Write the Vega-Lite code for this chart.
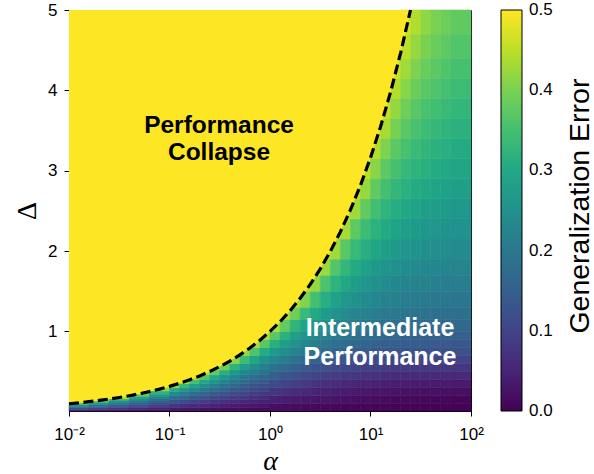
{
  "$schema": "https://vega.github.io/schema/vega-lite/v6.json",
  "width": 402,
  "height": 401,
  "autosize": {"type": "none"},
  "padding": {"left": 69, "top": 10, "right": 123, "bottom": 63},
  "background": "white",
  "config": {
    "font": "Liberation Sans",
    "view": {"stroke": "black", "strokeWidth": 1},
    "axis": {"domainColor": "black", "tickColor": "black", "labelColor": "black", "titleColor": "black", "labelFontSize": 17, "tickSize": 5, "grid": false, "labelFont": "Liberation Sans", "labelFlush": false, "domainWidth": 1, "tickWidth": 1}
  },
  "datasets": {
    "cells": [
      {"a0": 0.01, "a1": 0.015849, "d0": [0.01,0.03,0.05,0.07,0.09,0.11], "d1": [0.03,0.05,0.07,0.09,0.11,0.135], "e": [0.057,0.116,0.18,0.253,0.35,0.45]},
      {"a0": 0.015849, "a1": 0.025119, "d0": [0.01,0.03,0.05,0.07,0.09,0.11,0.135], "d1": [0.03,0.05,0.07,0.09,0.11,0.135,0.16], "e": [0.045,0.091,0.14,0.192,0.25,0.334,0.45]},
      {"a0": 0.025119, "a1": 0.039811, "d0": [0.01,0.03,0.05,0.07,0.09,0.11,0.135,0.16,0.19], "d1": [0.03,0.05,0.07,0.09,0.11,0.135,0.16,0.19,0.22], "e": [0.036,0.072,0.11,0.149,0.19,0.242,0.312,0.44,0.46]},
      {"a0": 0.039811, "a1": 0.063096, "d0": [0.01,0.03,0.05,0.07,0.09,0.11,0.135,0.16,0.19,0.22], "d1": [0.03,0.05,0.07,0.09,0.11,0.135,0.16,0.19,0.22,0.26], "e": [0.028,0.057,0.086,0.116,0.147,0.184,0.229,0.286,0.368,0.45]},
      {"a0": 0.063096, "a1": 0.1, "d0": [0.01,0.03,0.05,0.07,0.09,0.11,0.135,0.16,0.19,0.22,0.26,0.3], "d1": [0.03,0.05,0.07,0.09,0.11,0.135,0.16,0.19,0.22,0.26,0.3,0.35], "e": [0.023,0.045,0.068,0.092,0.116,0.143,0.175,0.213,0.259,0.325,0.42,0.46]},
      {"a0": 0.1, "a1": 0.12589, "d0": [0.01,0.05,0.1,0.15,0.2,0.25,0.3,0.35], "d1": [0.05,0.1,0.15,0.2,0.25,0.3,0.35,0.4], "e": [0.029,0.072,0.122,0.175,0.235,0.307,0.42,0.46]},
      {"a0": 0.12589, "a1": 0.15849, "d0": [0.01,0.05,0.1,0.15,0.2,0.25,0.3,0.35], "d1": [0.05,0.1,0.15,0.2,0.25,0.3,0.35,0.4], "e": [0.025,0.064,0.108,0.154,0.205,0.262,0.333,0.43]},
      {"a0": 0.15849, "a1": 0.19953, "d0": [0.01,0.05,0.1,0.15,0.2,0.25,0.3,0.35,0.4], "d1": [0.05,0.1,0.15,0.2,0.25,0.3,0.35,0.4,0.46], "e": [0.023,0.057,0.096,0.136,0.18,0.227,0.281,0.35,0.44]},
      {"a0": 0.19953, "a1": 0.25119, "d0": [0.01,0.05,0.1,0.15,0.2,0.25,0.3,0.35,0.4,0.46], "d1": [0.05,0.1,0.15,0.2,0.25,0.3,0.35,0.4,0.46,0.52], "e": [0.02,0.051,0.085,0.121,0.158,0.198,0.242,0.293,0.364,0.44]},
      {"a0": 0.25119, "a1": 0.31623, "d0": [0.01,0.05,0.1,0.15,0.2,0.25,0.3,0.35,0.4,0.46,0.52], "d1": [0.05,0.1,0.15,0.2,0.25,0.3,0.35,0.4,0.46,0.52,0.6], "e": [0.018,0.045,0.076,0.107,0.14,0.174,0.211,0.252,0.303,0.377,0.44]},
      {"a0": 0.31623, "a1": 0.39811, "d0": [0.01,0.05,0.1,0.15,0.2,0.25,0.3,0.35,0.4,0.46,0.52,0.6], "d1": [0.05,0.1,0.15,0.2,0.25,0.3,0.35,0.4,0.46,0.52,0.6,0.7], "e": [0.016,0.04,0.067,0.095,0.124,0.154,0.185,0.219,0.26,0.312,0.393,0.45]},
      {"a0": 0.39811, "a1": 0.50119, "d0": [0.01,0.05,0.1,0.15,0.2,0.25,0.3,0.35,0.4,0.46,0.52,0.6,0.7], "d1": [0.05,0.1,0.15,0.2,0.25,0.3,0.35,0.4,0.46,0.52,0.6,0.7,0.8], "e": [0.014,0.036,0.06,0.085,0.11,0.136,0.164,0.193,0.227,0.267,0.322,0.41,0.46]},
      {"a0": 0.50119, "a1": 0.63096, "d0": [0.01,0.05,0.1,0.15,0.2,0.25,0.3,0.35,0.4,0.46,0.52,0.6,0.7], "d1": [0.05,0.1,0.15,0.2,0.25,0.3,0.35,0.4,0.46,0.52,0.6,0.7,0.8], "e": [0.013,0.032,0.053,0.075,0.098,0.121,0.145,0.17,0.199,0.233,0.277,0.342,0.42]},
      {"a0": 0.63096, "a1": 0.79433, "d0": [0.01,0.05,0.1,0.15,0.2,0.25,0.3,0.35,0.4,0.46,0.52,0.6,0.7,0.8], "d1": [0.05,0.1,0.15,0.2,0.25,0.3,0.35,0.4,0.46,0.52,0.6,0.7,0.8,0.9], "e": [0.011,0.028,0.048,0.067,0.087,0.107,0.129,0.151,0.177,0.206,0.242,0.293,0.361,0.44]},
      {"a0": 0.79433, "a1": 1, "d0": [0.01,0.05,0.1,0.15,0.2,0.25,0.3,0.35,0.4,0.46,0.52,0.6,0.7,0.8,0.9], "d1": [0.05,0.1,0.15,0.2,0.25,0.3,0.35,0.4,0.46,0.52,0.6,0.7,0.8,0.9,1.0], "e": [0.01,0.025,0.042,0.06,0.078,0.096,0.115,0.135,0.158,0.183,0.214,0.257,0.308,0.37,0.44]},
      {"a0": 1, "a1": 1.2589, "d0": [0.01,0.1,0.2,0.3,0.4,0.5,0.6,0.7,0.8,0.9,1.0], "d1": [0.1,0.2,0.3,0.4,0.5,0.6,0.7,0.8,0.9,1.0,1.15], "e": [0.017,0.045,0.077,0.112,0.148,0.188,0.229,0.271,0.317,0.371,0.44]},
      {"a0": 1.2589, "a1": 1.5849, "d0": [0.01,0.1,0.2,0.3,0.4,0.5,0.6,0.7,0.8,0.9,1.0,1.15], "d1": [0.1,0.2,0.3,0.4,0.5,0.6,0.7,0.8,0.9,1.0,1.15,1.3], "e": [0.015,0.041,0.069,0.1,0.134,0.169,0.206,0.242,0.28,0.32,0.379,0.44]},
      {"a0": 1.5849, "a1": 1.9953, "d0": [0.01,0.1,0.2,0.3,0.4,0.5,0.6,0.7,0.8,0.9,1.0,1.15,1.3], "d1": [0.1,0.2,0.3,0.4,0.5,0.6,0.7,0.8,0.9,1.0,1.15,1.3,1.5], "e": [0.013,0.036,0.062,0.09,0.121,0.154,0.187,0.219,0.252,0.284,0.327,0.391,0.44]},
      {"a0": 1.9953, "a1": 2.5119, "d0": [0.01,0.1,0.2,0.3,0.4,0.5,0.6,0.7,0.8,0.9,1.0,1.15,1.3,1.5], "d1": [0.1,0.2,0.3,0.4,0.5,0.6,0.7,0.8,0.9,1.0,1.15,1.3,1.5,1.7], "e": [0.012,0.032,0.056,0.082,0.11,0.14,0.171,0.201,0.229,0.257,0.292,0.337,0.406,0.45]},
      {"a0": 2.5119, "a1": 3.1623, "d0": [0.01,0.1,0.2,0.3,0.4,0.5,0.6,0.7,0.8,0.9,1.0,1.15,1.3,1.5,1.7], "d1": [0.1,0.2,0.3,0.4,0.5,0.6,0.7,0.8,0.9,1.0,1.15,1.3,1.5,1.7,1.9], "e": [0.01,0.029,0.05,0.074,0.101,0.129,0.158,0.186,0.212,0.236,0.266,0.302,0.349,0.422,0.455]},
      {"a0": 3.1623, "a1": 3.9811, "d0": [0.01,0.1,0.2,0.3,0.4,0.5,0.6,0.7,0.8,0.9,1.0,1.15,1.3,1.5,1.7,1.9], "d1": [0.1,0.2,0.3,0.4,0.5,0.6,0.7,0.8,0.9,1.0,1.15,1.3,1.5,1.7,1.9,2.15], "e": [0.009,0.026,0.045,0.067,0.093,0.12,0.147,0.173,0.197,0.219,0.246,0.276,0.313,0.36,0.426,0.455]},
      {"a0": 3.9811, "a1": 5.0119, "d0": [0.01,0.1,0.2,0.3,0.4,0.5,0.6,0.7,0.8,0.9,1.0,1.15,1.3,1.5,1.7,1.9,2.15], "d1": [0.1,0.2,0.3,0.4,0.5,0.6,0.7,0.8,0.9,1.0,1.15,1.3,1.5,1.7,1.9,2.15,2.4], "e": [0.008,0.023,0.041,0.062,0.086,0.112,0.138,0.163,0.185,0.206,0.229,0.256,0.287,0.324,0.366,0.431,0.455]},
      {"a0": 5.0119, "a1": 6.3096, "d0": [0.01,0.1,0.2,0.3,0.4,0.5,0.6,0.7,0.8,0.9,1.0,1.15,1.3,1.5,1.7,1.9,2.15,2.4], "d1": [0.1,0.2,0.3,0.4,0.5,0.6,0.7,0.8,0.9,1.0,1.15,1.3,1.5,1.7,1.9,2.15,2.4,2.65], "e": [0.007,0.021,0.037,0.056,0.08,0.105,0.13,0.154,0.175,0.195,0.216,0.24,0.267,0.298,0.33,0.372,0.434,0.455]},
      {"a0": 6.3096, "a1": 7.9433, "d0": [0.01,0.1,0.2,0.3,0.4,0.5,0.6,0.7,0.8,0.9,1.0,1.15,1.3,1.5,1.7,1.9,2.15,2.4,2.65], "d1": [0.1,0.2,0.3,0.4,0.5,0.6,0.7,0.8,0.9,1.0,1.15,1.3,1.5,1.7,1.9,2.15,2.4,2.65,2.9], "e": [0.007,0.019,0.033,0.052,0.075,0.1,0.124,0.147,0.167,0.186,0.206,0.227,0.251,0.278,0.305,0.337,0.377,0.429,0.455]},
      {"a0": 7.9433, "a1": 10, "d0": [0.01,0.1,0.2,0.3,0.4,0.5,0.6,0.7,0.8,0.9,1.0,1.15,1.3,1.5,1.7,1.9,2.15,2.4,2.65,2.9,3.15], "d1": [0.1,0.2,0.3,0.4,0.5,0.6,0.7,0.8,0.9,1.0,1.15,1.3,1.5,1.7,1.9,2.15,2.4,2.65,2.9,3.15,3.4], "e": [0.006,0.017,0.031,0.049,0.071,0.095,0.119,0.141,0.161,0.178,0.197,0.217,0.239,0.262,0.286,0.313,0.344,0.379,0.421,0.45,0.47]},
      {"a0": 10, "a1": 12.589, "d0": [0.01,0.1,0.2,0.3,0.4,0.5,0.6,0.7,0.8,0.9,1.0,1.15,1.3,1.5,1.7,1.9,2.15,2.4,2.65,2.9,3.15,3.4], "d1": [0.1,0.2,0.3,0.4,0.5,0.6,0.7,0.8,0.9,1.0,1.15,1.3,1.5,1.7,1.9,2.15,2.4,2.65,2.9,3.15,3.4,3.65], "e": [0.005,0.015,0.028,0.046,0.068,0.091,0.115,0.136,0.155,0.172,0.19,0.209,0.229,0.25,0.271,0.295,0.321,0.348,0.378,0.411,0.445,0.465]},
      {"a0": 12.589, "a1": 15.849, "d0": [0.01,0.1,0.2,0.3,0.4,0.5,0.6,0.7,0.8,0.9,1.0,1.15,1.3,1.5,1.7,1.9,2.15,2.4,2.65,2.9,3.15,3.4,3.65,3.9], "d1": [0.1,0.2,0.3,0.4,0.5,0.6,0.7,0.8,0.9,1.0,1.15,1.3,1.5,1.7,1.9,2.15,2.4,2.65,2.9,3.15,3.4,3.65,3.9,4.15], "e": [0.005,0.013,0.026,0.043,0.065,0.088,0.111,0.133,0.151,0.167,0.185,0.202,0.221,0.24,0.26,0.281,0.304,0.327,0.351,0.376,0.403,0.435,0.455,0.47]},
      {"a0": 15.849, "a1": 19.953, "d0": [0.01,0.1,0.2,0.3,0.4,0.5,0.6,0.7,0.8,0.9,1.0,1.15,1.3,1.5,1.7,1.9,2.15,2.4,2.65,2.9,3.15,3.4,3.65,3.9,4.15,4.4], "d1": [0.1,0.2,0.3,0.4,0.5,0.6,0.7,0.8,0.9,1.0,1.15,1.3,1.5,1.7,1.9,2.15,2.4,2.65,2.9,3.15,3.4,3.65,3.9,4.15,4.4,4.7], "e": [0.004,0.012,0.024,0.041,0.062,0.085,0.109,0.13,0.148,0.164,0.18,0.197,0.215,0.233,0.25,0.27,0.291,0.311,0.332,0.353,0.374,0.396,0.42,0.445,0.46,0.47]},
      {"a0": 19.953, "a1": 25.119, "d0": [0.01,0.1,0.2,0.3,0.4,0.5,0.6,0.7,0.8,0.9,1.0,1.15,1.3,1.5,1.7,1.9,2.15,2.4,2.65,2.9,3.15,3.4,3.65,3.9,4.15,4.4,4.7], "d1": [0.1,0.2,0.3,0.4,0.5,0.6,0.7,0.8,0.9,1.0,1.15,1.3,1.5,1.7,1.9,2.15,2.4,2.65,2.9,3.15,3.4,3.65,3.9,4.15,4.4,4.7,5.0], "e": [0.004,0.011,0.0225,0.039,0.06,0.084,0.106,0.127,0.145,0.1605,0.177,0.193,0.209,0.227,0.243,0.261,0.28,0.299,0.318,0.336,0.354,0.372,0.39,0.41,0.43,0.45,0.465]},
      {"a0": 25.119, "a1": 31.623, "d0": [0.01,0.1,0.2,0.3,0.4,0.5,0.6,0.7,0.8,0.9,1.0,1.15,1.3,1.5,1.7,1.9,2.15,2.4,2.65,2.9,3.15,3.4,3.65,3.9,4.15,4.4,4.7], "d1": [0.1,0.2,0.3,0.4,0.5,0.6,0.7,0.8,0.9,1.0,1.15,1.3,1.5,1.7,1.9,2.15,2.4,2.65,2.9,3.15,3.4,3.65,3.9,4.15,4.4,4.7,5.0], "e": [0.003,0.01,0.021,0.038,0.059,0.082,0.105,0.125,0.143,0.158,0.174,0.189,0.205,0.222,0.237,0.254,0.272,0.29,0.307,0.323,0.339,0.356,0.371,0.387,0.403,0.421,0.442]},
      {"a0": 31.623, "a1": 39.811, "d0": [0.01,0.1,0.2,0.3,0.4,0.5,0.6,0.7,0.8,0.9,1.0,1.15,1.3,1.5,1.7,1.9,2.15,2.4,2.65,2.9,3.15,3.4,3.65,3.9,4.15,4.4,4.7], "d1": [0.1,0.2,0.3,0.4,0.5,0.6,0.7,0.8,0.9,1.0,1.15,1.3,1.5,1.7,1.9,2.15,2.4,2.65,2.9,3.15,3.4,3.65,3.9,4.15,4.4,4.7,5.0], "e": [0.003,0.009,0.02,0.037,0.058,0.08,0.103,0.1235,0.141,0.156,0.171,0.187,0.202,0.218,0.233,0.249,0.266,0.282,0.298,0.314,0.329,0.343,0.357,0.371,0.385,0.4,0.416]},
      {"a0": 39.811, "a1": 50.119, "d0": [0.01,0.1,0.2,0.3,0.4,0.5,0.6,0.7,0.8,0.9,1.0,1.15,1.3,1.5,1.7,1.9,2.15,2.4,2.65,2.9,3.15,3.4,3.65,3.9,4.15,4.4,4.7], "d1": [0.1,0.2,0.3,0.4,0.5,0.6,0.7,0.8,0.9,1.0,1.15,1.3,1.5,1.7,1.9,2.15,2.4,2.65,2.9,3.15,3.4,3.65,3.9,4.15,4.4,4.7,5.0], "e": [0.003,0.008,0.019,0.0355,0.057,0.079,0.102,0.122,0.1395,0.154,0.169,0.184,0.2,0.215,0.229,0.244,0.261,0.277,0.292,0.306,0.32,0.334,0.347,0.36,0.373,0.386,0.4]},
      {"a0": 50.119, "a1": 63.096, "d0": [0.01,0.1,0.2,0.3,0.4,0.5,0.6,0.7,0.8,0.9,1.0,1.15,1.3,1.5,1.7,1.9,2.15,2.4,2.65,2.9,3.15,3.4,3.65,3.9,4.15,4.4,4.7], "d1": [0.1,0.2,0.3,0.4,0.5,0.6,0.7,0.8,0.9,1.0,1.15,1.3,1.5,1.7,1.9,2.15,2.4,2.65,2.9,3.15,3.4,3.65,3.9,4.15,4.4,4.7,5.0], "e": [0.002,0.008,0.018,0.035,0.056,0.0785,0.101,0.121,0.138,0.153,0.168,0.183,0.197,0.212,0.226,0.241,0.257,0.272,0.286,0.3,0.314,0.327,0.339,0.352,0.363,0.376,0.389]},
      {"a0": 63.096, "a1": 100, "d0": [0.01,0.1,0.2,0.3,0.4,0.5,0.6,0.7,0.8,0.9,1.0,1.15,1.3,1.5,1.7,1.9,2.15,2.4,2.65,2.9,3.15,3.4,3.65,3.9,4.15,4.4,4.7], "d1": [0.1,0.2,0.3,0.4,0.5,0.6,0.7,0.8,0.9,1.0,1.15,1.3,1.5,1.7,1.9,2.15,2.4,2.65,2.9,3.15,3.4,3.65,3.9,4.15,4.4,4.7,5.0], "e": [0.002,0.007,0.017,0.034,0.055,0.077,0.1,0.12,0.137,0.152,0.166,0.181,0.195,0.209,0.223,0.237,0.252,0.267,0.281,0.294,0.307,0.319,0.331,0.342,0.353,0.365,0.378]}
    ],
    "curve": [
      {"a": 0.01, "d": 0.1}, {"a": 0.012589, "d": 0.1122}, {"a": 0.015849, "d": 0.1259}, {"a": 0.019953, "d": 0.1413},
      {"a": 0.025119, "d": 0.1585}, {"a": 0.031623, "d": 0.1778}, {"a": 0.039811, "d": 0.1995}, {"a": 0.050119, "d": 0.2239},
      {"a": 0.063096, "d": 0.2512}, {"a": 0.079433, "d": 0.2818}, {"a": 0.1, "d": 0.3162}, {"a": 0.12589, "d": 0.3548},
      {"a": 0.15849, "d": 0.3981}, {"a": 0.19953, "d": 0.4467}, {"a": 0.25119, "d": 0.5012}, {"a": 0.31623, "d": 0.5623},
      {"a": 0.39811, "d": 0.631}, {"a": 0.50119, "d": 0.7079}, {"a": 0.63096, "d": 0.7943}, {"a": 0.79433, "d": 0.8913},
      {"a": 1, "d": 1}, {"a": 1.2589, "d": 1.122}, {"a": 1.5849, "d": 1.2589}, {"a": 1.9953, "d": 1.4125},
      {"a": 2.5119, "d": 1.5849}, {"a": 3.1623, "d": 1.7783}, {"a": 3.9811, "d": 1.9953}, {"a": 5.0119, "d": 2.2387},
      {"a": 6.3096, "d": 2.5119}, {"a": 7.9433, "d": 2.8184}, {"a": 10, "d": 3.1623}, {"a": 12.589, "d": 3.5481},
      {"a": 15.849, "d": 3.9811}, {"a": 19.953, "d": 4.4668}, {"a": 25, "d": 5}
    ]
  },
  "layer": [
    {
      "data": {"name": "cells"},
      "transform": [{"flatten": ["d0", "d1", "e"]}],
      "mark": {"type": "rect", "strokeWidth": 0.6, "stroke": {"expr": "scale('color', datum.e)"}},
      "encoding": {
        "x": {"field": "a0", "type": "quantitative", "title": "α",
          "scale": {"type": "log", "domain": [0.01, 100], "nice": false},
          "axis": {"values": [0.01, 0.1, 1, 10, 100],
            "labelExpr": "datum.value < 0.05 ? '10⁻²' : datum.value < 0.5 ? '10⁻¹' : datum.value < 5 ? '10⁰' : datum.value < 50 ? '10¹' : '10²'",
            "labelPadding": 10, "titleFont": "Liberation Serif", "titleFontStyle": "italic", "titleFontSize": 28, "titleFontWeight": "normal", "titlePadding": 5}},
        "x2": {"field": "a1"},
        "y": {"field": "d0", "type": "quantitative", "title": "Δ",
          "scale": {"domain": [0.01, 5], "nice": false, "zero": false},
          "axis": {"values": [1, 2, 3, 4, 5], "format": "d", "labelPadding": 7, "titleFont": "Liberation Serif", "titleFontSize": 28, "titleFontWeight": "normal", "titlePadding": 6}},
        "y2": {"field": "d1"},
        "color": {"field": "e", "type": "quantitative",
          "scale": {"scheme": "viridis", "domain": [0, 0.5]},
          "legend": {"type": "gradient", "title": null, "orient": "right", "direction": "vertical", "offset": 30,
            "values": [0.0005, 0.1, 0.2, 0.3, 0.4, 0.4995], "format": ".1f", "labelBaseline": "middle",
            "gradientLength": 401, "gradientThickness": 21, "gradientStrokeColor": "black", "gradientStrokeWidth": 1,
            "labelFontSize": 17, "labelOffset": 7, "labelColor": "black", "labelFont": "Liberation Sans"}}
      }
    },
    {
      "data": {"name": "curve"},
      "mark": {"type": "area", "fill": "#fde725", "opacity": 1},
      "encoding": {
        "x": {"field": "a", "type": "quantitative", "title": "α"},
        "y": {"field": "d", "type": "quantitative", "title": "Δ"},
        "y2": {"datum": 5}
      }
    },
    {
      "data": {"name": "curve"},
      "mark": {"type": "line", "color": "black", "strokeWidth": 3.2, "strokeDash": [10, 4.5]},
      "encoding": {
        "x": {"field": "a", "type": "quantitative", "title": "α"},
        "y": {"field": "d", "type": "quantitative", "title": "Δ"}
      }
    },
    {
      "data": {"values": [{}]},
      "mark": {"type": "text", "font": "Liberation Sans", "fontWeight": "bold", "fontSize": 24.5, "lineHeight": 26.5, "align": "center", "baseline": "middle", "color": "black"},
      "encoding": {
        "x": {"datum": 0.311, "type": "quantitative"},
        "y": {"datum": 3.555, "type": "quantitative"},
        "text": {"value": ["Performance", "Collapse"]}
      }
    },
    {
      "data": {"values": [{}]},
      "mark": {"type": "text", "font": "Liberation Sans", "fontWeight": "bold", "fontSize": 25, "lineHeight": 28.5, "align": "center", "baseline": "middle", "color": "white"},
      "encoding": {
        "x": {"datum": 12.43, "type": "quantitative"},
        "y": {"datum": 1.04, "type": "quantitative"},
        "text": {"value": ["Intermediate", "Performance"]}
      }
    },
    {
      "data": {"values": [{}]},
      "mark": {"type": "text", "font": "Liberation Sans", "fontSize": 28.5, "align": "center", "baseline": "middle", "angle": 270, "color": "black"},
      "encoding": {
        "x": {"datum": 1215, "type": "quantitative"},
        "y": {"datum": 2.56, "type": "quantitative"},
        "text": {"value": "Generalization Error"}
      }
    }
  ]
}
